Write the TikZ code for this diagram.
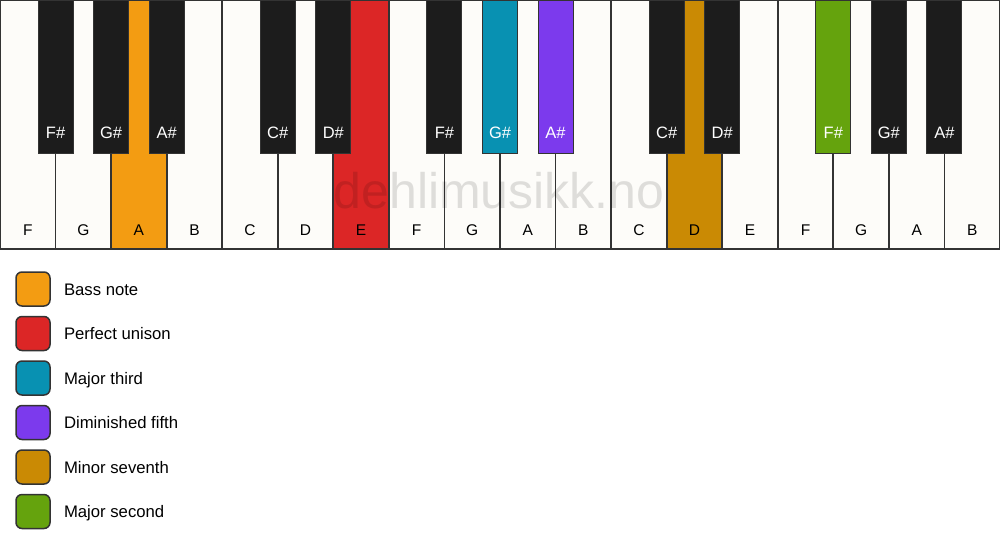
\documentclass[tikz,border=0pt]{standalone}
\usepackage{fontspec}
\setmainfont{Liberation Sans}
\usetikzlibrary{positioning}
\definecolor{keywhite}{HTML}{FDFCF9}
\definecolor{keyblack}{HTML}{1C1C1C}
\definecolor{keyedge}{HTML}{333333}
\definecolor{bassnote}{HTML}{F39C12}
\definecolor{unison}{HTML}{DC2626}
\definecolor{third}{HTML}{0891B2}
\definecolor{fifth}{HTML}{7C3AED}
\definecolor{seventh}{HTML}{CA8A04}
\definecolor{second}{HTML}{65A30D}
\tikzset{
  whitekey/.style={draw=keyedge, line width=1.8pt, minimum width=55.5556pt, minimum height=249pt, inner sep=0pt, outer sep=0pt},
  blackkey/.style={draw=keyedge, line width=1pt, minimum width=35pt, minimum height=153pt, inner sep=0pt, outer sep=0pt},
  whitelabel/.style={text=black, font=\fontsize{15.5}{18}\selectfont, inner sep=0pt},
  blacklabel/.style={text=white, font=\fontsize{16.5}{18}\selectfont, inner sep=0pt},
  swatch/.style={draw=keyedge, line width=1.5pt, rounded corners=6pt, minimum size=34pt, inner sep=0pt, outer sep=0pt},
  legendtext/.style={font=\fontsize{16.7}{19}\selectfont, inner sep=0pt, outer sep=0pt, text height=12pt, text depth=0pt},
  watermark/.style={text=black, opacity=0.12, font=\fontsize{50}{60}\selectfont, inner sep=0pt}
}
\begin{document}
\begin{tikzpicture}[x=1pt,y=-1pt]
\fill[white] (0,0) rectangle (1000,550);
\useasboundingbox (0,0) rectangle (1000,550);
\foreach \n/\c [count=\i from 0] in {F/keywhite,G/keywhite,A/bassnote,B/keywhite,C/keywhite,D/keywhite,E/unison,F/keywhite,G/keywhite,A/keywhite,B/keywhite,C/keywhite,D/seventh,E/keywhite,F/keywhite,G/keywhite,A/keywhite,B/keywhite}
{
  \node[whitekey, fill=\c] (w\i) at ({\i*55.5556+27.7778},124.5) {};
  \node[whitelabel] (lw\i) at ({\i*55.5556+27.7778},230) {\n};
}
\foreach \b/\n/\c in {1/F\#/keyblack,2/G\#/keyblack,3/A\#/keyblack,5/C\#/keyblack,6/D\#/keyblack,8/F\#/keyblack,9/G\#/third,10/A\#/fifth,12/C\#/keyblack,13/D\#/keyblack,15/F\#/second,16/G\#/keyblack,17/A\#/keyblack}
{
  \node[blackkey, fill=\c] (b\b) at ({\b*55.5556},76.5) {};
  \node[blacklabel] (lb\b) at ({\b*55.5556},133) {\n};
}
\node[watermark] (mark) at (499,191) {dehlimusikk.no};
\foreach \c/\t [count=\k from 0] in {bassnote/Bass note,unison/Perfect unison,third/Major third,fifth/Diminished fifth,seventh/Minor seventh,second/Major second}
{
  \node[swatch, fill=\c] (s\k) at (33,{289+44.5*\k}) {};
  \node[legendtext, right=14pt of s\k] (t\k) {\t};
}
\end{tikzpicture}
\end{document}
